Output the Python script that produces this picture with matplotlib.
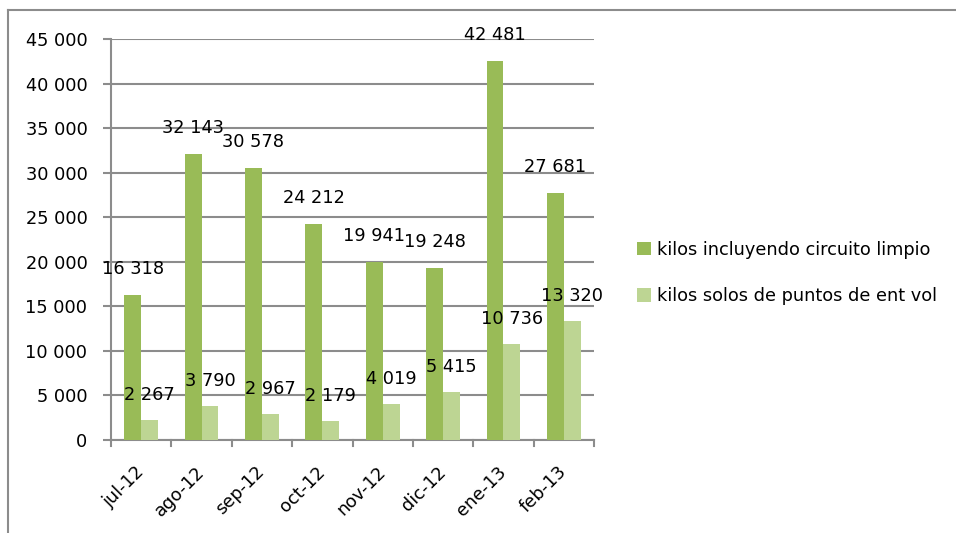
import matplotlib
matplotlib.use("Agg")
import matplotlib.pyplot as plt
import numpy as np
from matplotlib.lines import Line2D
from matplotlib.patches import Patch

categories = ["jul-12", "ago-12", "sep-12", "oct-12", "nov-12", "dic-12", "ene-13", "feb-13"]
series1_name = "kilos incluyendo circuito limpio"
series2_name = "kilos solos de puntos de ent vol"
series1 = [16318, 32143, 30578, 24212, 19941, 19248, 42481, 27681]
series2 = [2267, 3790, 2967, 2179, 4019, 5415, 10736, 13320]
yticks = [0, 5000, 10000, 15000, 20000, 25000, 30000, 35000, 40000, 45000]

c1 = "#99BB57"
c2 = "#BDD593"
grid_c = "#8C8C8C"

def fmt(v):
    return f"{v:,}".replace(",", " ")

fig = plt.figure(figsize=(9.56, 5.33), dpi=100)
ax = fig.add_axes([111/956, 1-440/533, (594-111)/956, (440-39)/533])

x = np.arange(len(categories))
w = 0.28
ax.bar(x - w/2, series1, w, color=c1, zorder=3)
ax.bar(x + w/2, series2, w, color=c2, zorder=3)

fs = 12.8
for xi, v in zip(x - w/2, series1):
    ax.annotate(fmt(v), (xi, v), xytext=(0, 26), textcoords="offset pixels",
                ha="center", va="center", fontsize=fs, zorder=5)
for xi, v in zip(x + w/2, series2):
    ax.annotate(fmt(v), (xi, v), xytext=(0, 25), textcoords="offset pixels",
                ha="center", va="center", fontsize=fs, zorder=5)

ax.set_xlim(-0.5, len(categories) - 0.5)
ax.set_ylim(0, 45000)
ax.set_yticks(yticks)
ax.set_yticklabels([fmt(t) for t in yticks], fontsize=fs)
ax.yaxis.grid(True, color=grid_c, linewidth=1.5, zorder=0)
ax.set_axisbelow(True)
for s in ["top", "right"]:
    ax.spines[s].set_visible(False)
ax.spines["left"].set_color(grid_c)
ax.spines["left"].set_linewidth(1.5)
ax.spines["bottom"].set_color(grid_c)
ax.spines["bottom"].set_linewidth(1.5)
ax.tick_params(axis="y", length=6, color=grid_c, width=1.5, pad=11)

ax.set_xticks(x)
ax.set_xticklabels(categories, rotation=45, ha="right", va="center",
                   rotation_mode="anchor", fontsize=fs)
ax.tick_params(axis="x", length=0, pad=21)
# boundary ticks between categories
for b in np.arange(-0.5, len(categories), 1.0):
    ax.plot([b, b], [0, -0.015], transform=ax.get_xaxis_transform(), color=grid_c,
            lw=1.5, clip_on=False)

handles = [Patch(facecolor=c1), Patch(facecolor=c2)]
fig.legend(handles, [series1_name, series2_name], loc="center left",
           bbox_to_anchor=(630/956, 1-273/533), frameon=False, fontsize=fs,
           handlelength=0.8, handleheight=0.8, handletextpad=0.3, labelspacing=1.6,
           borderaxespad=0)

# outer frame (left and top edges)
fig.add_artist(Line2D([8/956, 8/956], [0, 1-10/533], color="#8C8C8C", lw=1.5))
fig.add_artist(Line2D([8/956, 1.01], [1-10/533, 1-10/533], color="#8C8C8C", lw=1.5))

fig.savefig("out.png", dpi=100)
